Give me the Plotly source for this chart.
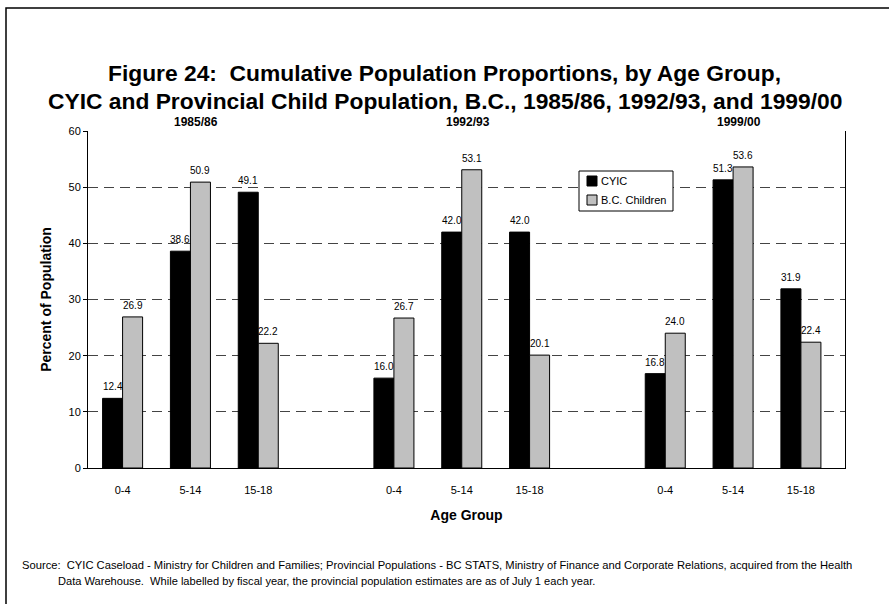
import plotly.graph_objects as go

# Age groups and fiscal years shown
age_groups = ["0-4", "5-14", "15-18"]
years = ["1985/86", "1992/93", "1999/00"]
series_names = ["CYIC", "B.C. Children"]

# Cumulative population proportions (%) by year, in age-group order
cyic_1985 = [12.4, 38.6, 49.1]
cyic_1992 = [16.0, 42.0, 42.0]
cyic_1999 = [16.8, 51.3, 31.9]
bc_1985 = [26.9, 50.9, 22.2]
bc_1992 = [26.7, 53.1, 20.1]
bc_1999 = [24.0, 53.6, 22.4]

cyic = cyic_1985 + cyic_1992 + cyic_1999
bc = bc_1985 + bc_1992 + bc_1999

# Category slots: each year block holds the three age groups, with a blank
# slot between blocks
slot = len(age_groups) + 1
xpos = [yi * slot + ai for yi in range(len(years)) for ai in range(len(age_groups))]
xtext = [age_groups[ai] for yi in range(len(years)) for ai in range(len(age_groups))]

NARROW = "Liberation Sans Narrow, Arial Narrow, Liberation Sans, Arial, sans-serif"
BOLD = "Liberation Sans, Arial, sans-serif"
COLORS = ["#000000", "#c0c0c0"]
BARGAP = 0.41

# Plot area in pixels (figure is 889 x 604)
W, H = 889, 604
PL, PR, PT, PB = 88, 845, 131, 468


def px(x):
    return (x - PL) / (PR - PL)


def py(y):
    return (PB - y) / (PB - PT)


fig = go.Figure()
for name, vals, col in zip(series_names, [cyic, bc], COLORS):
    fig.add_trace(go.Bar(
        x=xpos, y=vals, name=name,
        marker=dict(color=col, line=dict(color="#000000", width=1)),
        showlegend=False,
    ))

# Value labels above each bar (grouped bars sit a quarter of the group width
# either side of the slot centre)
half = (1 - BARGAP) / 4
for si, vals in enumerate([cyic, bc]):
    off = -half if si == 0 else half
    for xv, v in zip(xpos, vals):
        fig.add_annotation(
            x=xv + off, y=v, xref="x", yref="y", text=f"{v:.1f}",
            showarrow=False, yanchor="bottom", yshift=4,
            font=dict(family=NARROW, size=10, color="#000000"),
        )

# Year headings above each block
for yi, yr in enumerate(years):
    fig.add_annotation(
        x=yi * slot + 1, y=1.0, xref="x", yref="paper",
        text=f"<b>{yr}</b>", showarrow=False, xshift=6, yshift=0,
        yanchor="bottom", font=dict(family=NARROW, size=12, color="#000000"),
    )

# Two-line heading
fig.add_annotation(
    x=px(W / 2), y=py(73), xref="paper", yref="paper",
    xanchor="center", yanchor="middle", showarrow=False,
    text="<b>Figure 24:  Cumulative Population Proportions, by Age Group,</b>",
    font=dict(family=BOLD, size=22.8, color="#000000"),
)
fig.add_annotation(
    x=px(W / 2), y=py(101), xref="paper", yref="paper",
    xanchor="center", yanchor="middle", showarrow=False,
    text="<b>CYIC and Provincial Child Population, B.C., 1985/86, 1992/93, and 1999/00</b>",
    font=dict(family=BOLD, size=22.8, color="#000000"),
)

# Source note
fig.add_annotation(
    x=px(20), y=py(565), xref="paper", yref="paper",
    xanchor="left", yanchor="middle", showarrow=False, align="left",
    text="Source:  CYIC Caseload - Ministry for Children and Families; Provincial Populations - BC STATS, "
         "Ministry of Finance and Corporate Relations, acquired from the Health",
    font=dict(family=NARROW, size=11.2, color="#000000"),
)
fig.add_annotation(
    x=px(56), y=py(581), xref="paper", yref="paper",
    xanchor="left", yanchor="middle", showarrow=False, align="left",
    text="Data Warehouse.  While labelled by fiscal year, the provincial population estimates are as of July 1 each year.",
    font=dict(family=NARROW, size=11.1, color="#000000"),
)

# Legend box with swatches
fig.add_shape(
    type="rect", xref="paper", yref="paper",
    x0=px(579), x1=px(673), y0=py(211), y1=py(171),
    line=dict(color="#000000", width=1), fillcolor="#ffffff",
)
for i, (name, col) in enumerate(zip(series_names, COLORS)):
    cy = 181 + i * 19
    fig.add_shape(
        type="rect", xref="paper", yref="paper",
        x0=px(587), x1=px(597), y0=py(cy + 5), y1=py(cy - 5),
        line=dict(color="#000000", width=1), fillcolor=col,
    )
    fig.add_annotation(
        x=px(599), y=py(cy), xref="paper", yref="paper",
        xanchor="left", yanchor="middle", showarrow=False, text=name,
        font=dict(family=NARROW, size=11, color="#000000"),
    )

# Outer frame
fig.add_shape(
    type="rect", xref="paper", yref="paper",
    x0=px(6), x1=px(W + 20), y0=py(H + 20), y1=py(8),
    line=dict(color="#000000", width=1.5), fillcolor="rgba(0,0,0,0)", layer="below",
)

fig.update_layout(
    width=W, height=H,
    margin=dict(l=PL, r=W - PR, t=PT, b=H - PB),
    paper_bgcolor="#ffffff", plot_bgcolor="#ffffff",
    barmode="group", bargap=BARGAP, bargroupgap=0,
    font=dict(family=NARROW, size=11, color="#000000"),
    showlegend=False,
    xaxis=dict(
        range=[-0.51, 10.65], tickmode="array", tickvals=xpos, ticktext=xtext,
        showgrid=False, zeroline=False, showline=True, linecolor="#000000", linewidth=1,
        ticks="", ticklabelstandoff=12, tickfont=dict(family=NARROW, size=11),
        title=dict(text="<b>Age Group</b>", font=dict(family=BOLD, size=14), standoff=14),
    ),
    yaxis=dict(
        range=[0, 60], tickvals=[0, 10, 20, 30, 40, 50, 60],
        showgrid=True, gridcolor="#444444", gridwidth=1, griddash="10px,6px",
        zeroline=False, showline=True, mirror=True, linecolor="#000000", linewidth=1,
        ticks="outside", ticklen=4, tickcolor="#000000", tickfont=dict(family=NARROW, size=11),
        title=dict(text="<b>Percent of Population</b>", font=dict(family=BOLD, size=14), standoff=13),
    ),
)

fig.write_html("out.html")
